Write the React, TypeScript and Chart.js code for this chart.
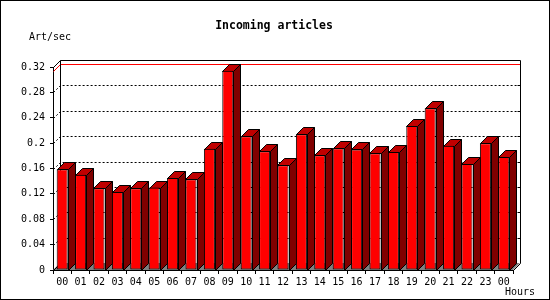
import React, { useEffect, useRef } from "react";
import { Chart, registerables } from "chart.js";

Chart.register(...registerables);

const hours = [
  "00", "01", "02", "03", "04", "05", "06", "07", "08", "09", "10", "11",
  "12", "13", "14", "15", "16", "17", "18", "19", "20", "21", "22", "23", "00",
];
const articlesPerSec = [
  0.159, 0.15, 0.129, 0.123, 0.129, 0.13, 0.145, 0.143, 0.191, 0.314, 0.211, 0.187,
  0.165, 0.214, 0.181, 0.192, 0.19, 0.184, 0.186, 0.227, 0.255, 0.196, 0.167, 0.2, 0.178,
];
const yTicks = [0, 0.04, 0.08, 0.12, 0.16, 0.2, 0.24, 0.28, 0.32];
const chartTitle = "Incoming articles";
const yAxisLabel = "Art/sec";
const xAxisLabel = "Hours";

const DEPTH = 7;
const MONO = '"DejaVu Sans Mono", monospace';
const px = (v: number) => Math.round(v) + 0.5;

const threeD = {
  id: "threeD",
  beforeDatasetsDraw(chart: any) {
    const { ctx, chartArea: a, scales } = chart;
    const ys = scales.y;
    const D = DEPTH;
    const L = Math.round(a.left);
    const R = Math.round(a.right);
    const T = Math.round(a.top);
    const B = Math.round(a.bottom);
    ctx.save();
    ctx.lineWidth = 1;

    // floor
    ctx.fillStyle = "#808080";
    ctx.beginPath();
    ctx.moveTo(L, B);
    ctx.lineTo(R, B);
    ctx.lineTo(R + D, B - D);
    ctx.lineTo(L + D, B - D);
    ctx.closePath();
    ctx.fill();

    // dotted grid on back wall
    ctx.strokeStyle = "#000";
    ctx.setLineDash([2, 2]);
    const maxTick = yTicks[yTicks.length - 1];
    for (const v of yTicks) {
      if (v <= 0 || v >= maxTick) continue;
      const yf = Math.round(ys.getPixelForValue(v));
      ctx.beginPath();
      ctx.moveTo(L + 0.5, yf + 0.5);
      ctx.lineTo(L + D + 0.5, yf - D + 0.5);
      ctx.lineTo(R + D + 0.5, yf - D + 0.5);
      ctx.stroke();
    }
    ctx.setLineDash([]);

    // max value line (red)
    const maxVal = Math.max(...articlesPerSec);
    const ym = Math.round(ys.getPixelForValue(maxVal));
    ctx.strokeStyle = "#ff0000";
    ctx.beginPath();
    ctx.moveTo(L + 0.5, ym + 0.5);
    ctx.lineTo(L + D + 0.5, ym - D + 0.5);
    ctx.lineTo(R + D + 0.5, ym - D + 0.5);
    ctx.stroke();

    // back wall outline
    ctx.strokeStyle = "#000";
    ctx.beginPath();
    ctx.moveTo(L + 0.5, T + 0.5);
    ctx.lineTo(L + D + 0.5, T - D + 0.5);
    ctx.lineTo(R + D + 0.5, T - D + 0.5);
    ctx.lineTo(R + D + 0.5, B - D + 0.5);
    ctx.lineTo(R + 0.5, B + 0.5);
    ctx.stroke();
    ctx.beginPath();
    ctx.moveTo(L + D + 0.5, T - D + 0.5);
    ctx.lineTo(L + D + 0.5, B - D + 0.5);
    ctx.lineTo(L + 0.5, B + 0.5);
    ctx.stroke();

    // right-side ticks on back wall
    for (const v of yTicks) {
      if (v <= 0 || v >= maxTick) continue;
      const yb = Math.round(ys.getPixelForValue(v)) - D + 0.5;
      ctx.beginPath();
      ctx.moveTo(R + D + 0.5, yb);
      ctx.lineTo(R + D - 3 + 0.5, yb);
      ctx.stroke();
    }

    // bar tops and sides
    const meta = chart.getDatasetMeta(0);
    for (const el of meta.data) {
      const l = Math.round(el.x - el.width / 2);
      const r = Math.round(el.x + el.width / 2);
      const t = Math.round(el.y);
      const b = Math.round(el.base);
      // side
      ctx.fillStyle = "#800000";
      ctx.beginPath();
      ctx.moveTo(r + 0.5, t + 0.5);
      ctx.lineTo(r + D + 0.5, t - D + 0.5);
      ctx.lineTo(r + D + 0.5, b - D + 0.5);
      ctx.lineTo(r + 0.5, b + 0.5);
      ctx.closePath();
      ctx.fill();
      ctx.stroke();
      // top
      ctx.fillStyle = "#c00000";
      ctx.beginPath();
      ctx.moveTo(l + 0.5, t + 0.5);
      ctx.lineTo(l + D + 0.5, t - D + 0.5);
      ctx.lineTo(r + D + 0.5, t - D + 0.5);
      ctx.lineTo(r + 0.5, t + 0.5);
      ctx.closePath();
      ctx.fill();
      ctx.stroke();
    }
    ctx.restore();
  },
  afterDraw(chart: any) {
    const { ctx, width, height } = chart;
    ctx.save();
    ctx.strokeStyle = "#000";
    ctx.lineWidth = 1;
    ctx.strokeRect(0.5, 0.5, width - 1, height - 1);
    ctx.fillStyle = "#000";
    ctx.textBaseline = "middle";
    ctx.font = `bold 11.5px ${MONO}`;
    ctx.textAlign = "center";
    ctx.fillText(chartTitle, 274, 26);
    ctx.font = `10px ${MONO}`;
    ctx.textAlign = "left";
    ctx.fillText(yAxisLabel, 29, 37);
    ctx.fillText(xAxisLabel, 505, 292);
    ctx.restore();
  },
};

export default function App() {
  const ref = useRef<HTMLCanvasElement>(null);
  useEffect(() => {
    document.body.style.margin = "0";
    const canvas = ref.current!;
    const chart = new Chart(canvas, {
      type: "bar",
      data: {
        labels: hours,
        datasets: [
          {
            data: articlesPerSec,
            backgroundColor: "#ff0000",
            borderColor: "#000000",
            borderWidth: 1,
            borderSkipped: false,
            categoryPercentage: 1,
            barPercentage: 0.6,
          },
        ],
      },
      options: {
        responsive: false,
        animation: false,
        devicePixelRatio: 1,
        layout: { padding: { top: 67, right: 37, left: 0, bottom: 0 } },
        plugins: {
          legend: { display: false },
          title: { display: false },
          tooltip: { enabled: false },
        },
        scales: {
          x: {
            type: "category",
            offset: true,
            grid: {
              offset: true,
              drawOnChartArea: false,
              drawTicks: true,
              tickLength: 4,
              color: "#000",
            },
            border: { display: true, color: "#000", width: 1 },
            ticks: {
              color: "#000",
              font: { family: MONO, size: 10 },
              padding: 2,
              maxRotation: 0,
              autoSkip: false,
            },
            afterFit: (s: any) => {
              s.height = 30;
            },
          },
          y: {
            min: 0,
            max: 0.32,
            grid: {
              drawOnChartArea: false,
              drawTicks: true,
              tickLength: 3,
              color: "#000",
            },
            border: { display: true, color: "#000", width: 1 },
            ticks: {
              color: "#000",
              font: { family: MONO, size: 10 },
              padding: 5,
              callback: (v: any) => Number(Number(v).toFixed(2)).toString(),
            },
            afterBuildTicks: (s: any) => {
              s.ticks = yTicks.map((v) => ({ value: v }));
            },
            afterFit: (s: any) => {
              s.width = 53;
            },
          },
        },
      },
      plugins: [threeD],
    });
    return () => chart.destroy();
  }, []);
  return <canvas ref={ref} width={550} height={300} style={{ display: "block" }} />;
}
